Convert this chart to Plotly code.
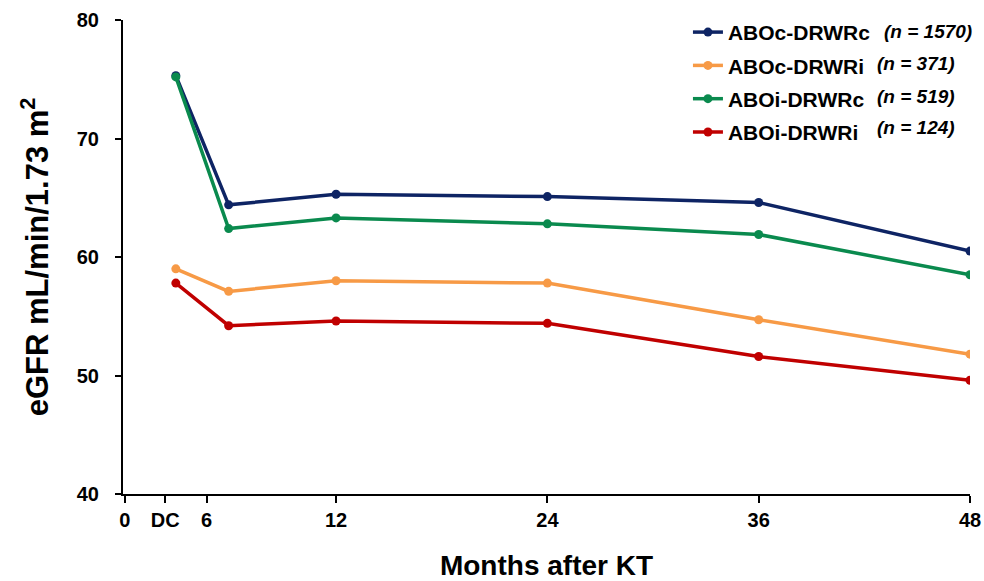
import plotly.graph_objects as go

# Data (x in months; first point is at discharge "DC")
x_vals = [2.9, 5.9, 12, 24, 36, 48]
series_names = ["ABOc-DRWRc", "ABOc-DRWRi", "ABOi-DRWRc", "ABOi-DRWRi"]
series_n = ["(<i>n</i> = 1570)", "(<i>n</i> = 371)", "(<i>n</i> = 519)", "(<i>n</i> = 124)"]
abo_c_drwr_c = [75.3, 64.4, 65.3, 65.1, 64.6, 60.5]
abo_c_drwr_i = [59.0, 57.1, 58.0, 57.8, 54.7, 51.8]
abo_i_drwr_c = [75.2, 62.4, 63.3, 62.8, 61.9, 58.5]
abo_i_drwr_i = [57.8, 54.2, 54.6, 54.4, 51.6, 49.6]
series_vals = [abo_c_drwr_c, abo_c_drwr_i, abo_i_drwr_c, abo_i_drwr_i]
colors = ["#0E2464", "#F79A46", "#0A8A4E", "#C00000"]

tick_vals = [0, 2.3, 4.65, 12, 24, 36, 48]
tick_text = ["0", "DC", "6", "12", "24", "36", "48"]
y_ticks = [40, 50, 60, 70, 80]

FONT = "Liberation Sans, Arial, sans-serif"

fig = go.Figure()
for i, (name, vals, col) in enumerate(zip(series_names, series_vals, colors)):
    fig.add_trace(go.Scatter(
        x=x_vals, y=vals, mode="lines+markers", name=name, legendgroup=f"g{i}",
        line=dict(color=col, width=3.5), marker=dict(color=col, size=9),
    ))

# n annotations next to legend entries
PL, PW, PT, PH = 123, 847, 20, 474
n_x_px = [882, 875, 875, 875]
n_y_px = [31, 63, 96, 127]
for t, xp, yp in zip(series_n, n_x_px, n_y_px):
    fig.add_annotation(
        x=(xp - PL) / PW, y=1 - (yp - PT) / PH, xref="paper", yref="paper",
        text="<b><i>" + t + "</i></b>", showarrow=False, xanchor="left", yanchor="middle",
        font=dict(family=FONT, size=19, color="black"),
    )

fig.update_layout(
    width=984, height=581,
    margin=dict(l=PL, r=984 - PL - PW, t=PT, b=581 - PT - PH, autoexpand=False),
    plot_bgcolor="white", paper_bgcolor="white",
    font=dict(family=FONT, color="black"),
    showlegend=True,
    legend=dict(x=0.667, y=1.017, xanchor="left", yanchor="top",
                font=dict(size=21, color="black", weight="bold"), bgcolor="rgba(0,0,0,0)",
                tracegroupgap=3, itemwidth=30),
    xaxis=dict(
        range=[-0.1, 48], tickvals=tick_vals, ticktext=tick_text,
        showline=True, linecolor="black", linewidth=2, ticks="outside",
        ticklen=7, tickwidth=2, tickcolor="black", showgrid=False, zeroline=False,
        tickfont=dict(size=20, weight="bold"),
        title=dict(text="Months after KT", font=dict(size=28, weight="bold"), standoff=25),
    ),
    yaxis=dict(
        range=[40, 80], tickvals=y_ticks, showline=True, linecolor="black", linewidth=2,
        ticks="outside", ticklen=6, tickwidth=2, tickcolor="black", showgrid=False,
        zeroline=False, tickfont=dict(size=20, weight="bold"), ticklabelstandoff=12,
        title=dict(text="eGFR mL/min/1.73 m<sup>2</sup>", font=dict(size=31, weight="bold"), standoff=19),
    ),
)
fig.write_html("out.html")
